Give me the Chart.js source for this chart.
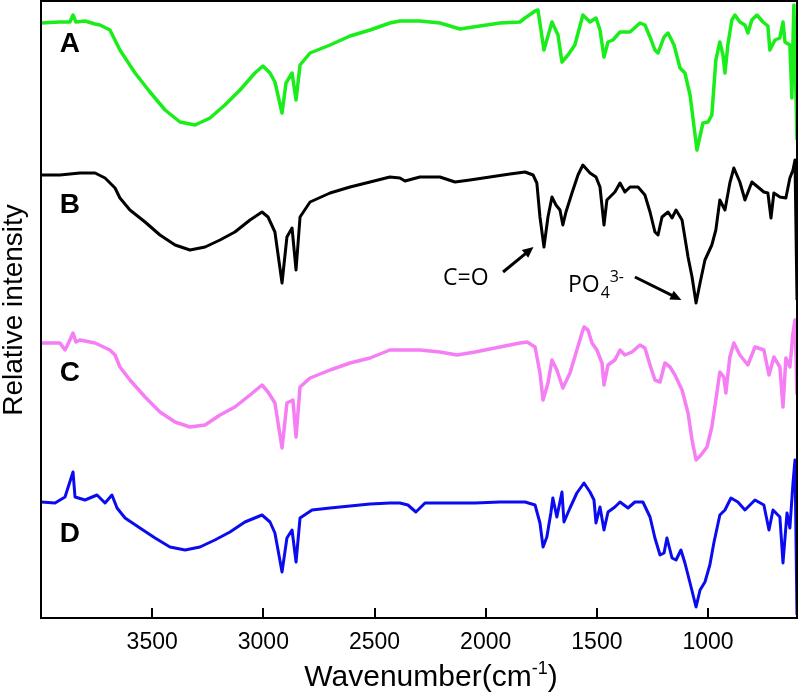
<!DOCTYPE html>
<html>
<head>
<meta charset="utf-8">
<script src="https://cdn.jsdelivr.net/npm/chart.js@4/dist/chart.umd.min.js"></script>
<style>
  html, body { margin: 0; padding: 0; background: #fff; }
  canvas { display: block; }
</style>
</head>
<body>
<canvas id="ftir" width="800" height="693"></canvas>
<script>
// wavenumbers (cm-1) and relative intensity (arbitrary units)
var wnA = [4000,3915,3870,3856,3843,3802,3757,3735,3690,3645,3577,3510,3442,3375,3307,3240,3173,3105,3038,3002,2970,2948,2916,2898,2871,2853,2835,2790,2700,2610,2520,2431,2386,2296,2206,2116,2026,1936,1846,1823,1778,1765,1738,1702,1675,1657,1630,1599,1563,1531,1504,1486,1468,1450,1428,1396,1351,1306,1284,1261,1239,1225,1198,1180,1153,1126,1104,1081,1050,1023,1000,983,965,947,933,924,911,893,879,857,834,821,803,780,753,731,722,699,677,663,654,632,623,618,614,600];
var intA = [59.5,59.6,59.6,60.3,59.6,59.7,59.4,59.3,58.8,56.8,54.5,52.6,50.8,49.6,49.3,50.0,51.3,52.8,54.5,55.2,54.5,53.6,50.5,53.5,54.5,51.8,55.3,56.5,57.3,58.2,58.8,59.5,59.7,59.7,59.5,58.9,59.2,59.5,59.6,60.0,60.7,60.8,56.8,59.6,58.3,55.6,56.3,57.3,60.3,59.6,60.0,58.8,56.1,57.6,57.8,58.6,58.6,59.5,59.3,58.1,56.8,56.5,58.1,58.5,57.3,55.0,54.5,52.3,46.8,49.5,49.6,50.3,55.8,57.6,56.3,54.5,57.3,59.8,60.3,59.6,59.3,58.5,59.8,60.3,59.6,59.2,56.8,57.8,58.0,59.6,57.6,57.3,52.0,57.8,61.3,47.8];

var wnB = [4000,3915,3825,3757,3712,3667,3645,3600,3532,3465,3397,3330,3262,3195,3128,3060,3006,2979,2948,2916,2894,2871,2853,2835,2790,2700,2610,2520,2431,2386,2363,2296,2206,2138,2071,1981,1891,1823,1787,1770,1756,1738,1720,1702,1684,1666,1653,1639,1612,1585,1563,1531,1504,1486,1468,1455,1419,1396,1374,1351,1315,1284,1261,1239,1225,1207,1180,1162,1144,1117,1090,1072,1054,1036,1014,983,965,947,924,902,884,857,834,803,776,749,731,717,704,677,650,632,618,609,600];
var intB = [44.3,44.3,44.5,44.5,44.0,43.0,42.0,40.8,39.6,38.3,37.3,36.8,37.1,37.8,38.6,39.8,40.6,40.1,38.6,33.5,38.1,39.0,34.8,40.1,41.6,42.5,43.1,43.6,44.1,44.0,43.7,44.1,44.1,43.6,43.8,44.1,44.4,44.6,44.3,43.5,40.1,37.1,40.1,42.1,41.3,40.8,39.3,40.6,42.5,44.3,45.3,44.5,44.1,43.1,39.3,41.8,42.6,43.5,42.6,43.1,43.1,42.3,40.6,38.6,38.3,40.1,40.6,40.0,40.8,39.8,36.1,34.1,31.5,33.5,35.8,37.3,38.8,41.8,40.8,43.5,45.0,43.6,41.8,43.6,43.1,42.6,42.5,40.0,42.5,42.1,42.0,44.0,44.8,45.8,31.8];

var wnC = [4000,3915,3892,3870,3856,3843,3825,3757,3690,3667,3645,3600,3532,3465,3397,3330,3262,3195,3128,3060,3006,2979,2948,2916,2894,2867,2853,2835,2790,2700,2610,2520,2431,2386,2296,2206,2129,2048,1936,1846,1814,1778,1756,1742,1720,1702,1680,1653,1621,1590,1567,1558,1540,1522,1500,1477,1468,1450,1419,1396,1374,1342,1306,1284,1261,1239,1216,1194,1171,1149,1117,1090,1072,1054,1032,1005,983,965,947,929,920,902,884,857,821,789,749,726,704,677,663,650,632,618,609,600];
var intC = [27.5,27.5,26.8,27.8,28.5,27.6,27.8,27.5,26.8,26.3,25.1,23.8,22.1,20.6,19.6,19.1,19.3,20.3,21.1,22.3,23.3,22.6,21.5,17.0,21.5,21.8,18.1,23.1,24.0,24.8,25.5,26.0,26.8,26.8,26.8,26.6,26.3,26.6,27.1,27.5,27.6,27.1,24.5,21.8,23.5,25.8,24.8,23.0,24.5,26.8,28.5,29.1,28.8,27.5,26.8,25.5,23.3,25.3,25.8,26.8,26.3,26.6,27.3,27.0,25.3,23.8,23.6,25.5,25.1,24.3,22.8,20.5,17.8,15.8,16.3,17.1,19.1,21.8,24.6,24.1,22.5,26.1,27.5,26.3,25.3,27.1,26.8,24.3,26.1,25.1,21.1,26.0,25.1,28.5,29.8,22.3];

var wnD = [4000,3937,3892,3856,3847,3802,3748,3712,3681,3658,3622,3555,3487,3420,3352,3285,3218,3150,3083,3006,2970,2948,2916,2894,2871,2853,2835,2781,2700,2610,2520,2431,2386,2350,2314,2273,2161,2048,1936,1823,1778,1756,1742,1725,1707,1698,1680,1657,1648,1621,1590,1558,1531,1513,1504,1486,1468,1450,1419,1396,1360,1329,1293,1261,1239,1216,1198,1185,1162,1144,1122,1104,1081,1054,1036,1014,992,974,947,924,897,866,834,789,749,726,708,677,663,645,632,618,609,600];
var intD = [11.6,11.5,12.1,14.6,12.1,11.8,12.3,11.5,12.3,11.0,10.0,9.0,8.0,7.1,6.8,7.1,7.8,8.6,9.6,10.3,9.6,8.5,4.6,8.0,8.8,5.6,10.0,10.8,11.0,11.2,11.4,11.5,11.5,11.3,10.6,11.5,11.5,11.5,11.6,11.6,11.3,9.5,7.1,8.1,10.5,12.0,10.1,12.6,9.6,11.0,12.5,13.5,12.6,11.8,9.5,11.1,8.8,10.6,11.1,11.6,11.0,11.6,11.6,10.1,8.0,6.3,6.5,8.0,6.0,5.8,6.8,5.5,3.5,1.1,2.8,3.6,5.3,7.5,10.3,10.8,12.0,11.6,10.8,11.8,11.3,8.8,10.8,10.1,5.5,10.5,9.0,13.5,15.8,0.3];

var sampleNames = ["A", "B", "C", "D"];
var xTicks = [1000, 1500, 2000, 2500, 3000, 3500];

function pts(wn, val) {
  return wn.map(function (w, i) { return { x: w, y: val[i] }; });
}

function arrow(ctx, x1, y1, x2, y2) {
  var ang = Math.atan2(y2 - y1, x2 - x1);
  var hl = 11;
  ctx.save();
  ctx.strokeStyle = "#000";
  ctx.fillStyle = "#000";
  ctx.lineWidth = 3;
  ctx.beginPath();
  ctx.moveTo(x1, y1);
  ctx.lineTo(x2 - Math.cos(ang) * hl * 0.8, y2 - Math.sin(ang) * hl * 0.8);
  ctx.stroke();
  ctx.beginPath();
  ctx.moveTo(x2, y2);
  ctx.lineTo(x2 - hl * Math.cos(ang) + 5 * Math.sin(ang), y2 - hl * Math.sin(ang) - 5 * Math.cos(ang));
  ctx.lineTo(x2 - hl * Math.cos(ang) - 5 * Math.sin(ang), y2 - hl * Math.sin(ang) + 5 * Math.cos(ang));
  ctx.closePath();
  ctx.fill();
  ctx.restore();
}

// frame, tick labels, sample letters, annotations and axis titles
var extras = {
  id: "extras",
  afterDraw: function (chart) {
    var ctx = chart.ctx;
    var xs = chart.scales.x, ys = chart.scales.y, a = chart.chartArea;
    ctx.save();
    ctx.strokeStyle = "#000";
    ctx.lineWidth = 2;
    ctx.strokeRect(a.left, a.top, a.right - a.left, a.bottom - a.top);

    ctx.fillStyle = "#000";
    ctx.font = "23px 'Liberation Sans', Arial, sans-serif";
    ctx.textAlign = "center";
    ctx.textBaseline = "middle";
    xs.ticks.forEach(function (t) {
      ctx.fillText(String(t.value), xs.getPixelForValue(t.value), a.bottom + 25);
    });

    ctx.font = "bold 28px 'Liberation Sans', Arial, sans-serif";
    var letterY = [57.4, 41.3, 24.5, 8.4];
    sampleNames.forEach(function (s, i) {
      ctx.fillText(s, xs.getPixelForValue(3870), ys.getPixelForValue(letterY[i]));
    });

    ctx.font = "23px 'Open Sans', sans-serif";
    ctx.textAlign = "left";
    ctx.textBaseline = "alphabetic";
    ctx.fillText("C=O", xs.getPixelForValue(2192), ys.getPixelForValue(33.3));
    var px = xs.getPixelForValue(1630), py = ys.getPixelForValue(32.6);
    ctx.fillText("PO", px, py);
    var w = ctx.measureText("PO").width;
    ctx.font = "16px 'Open Sans', sans-serif";
    ctx.fillText("4", px + w + 1, py + 6);
    ctx.fillText("3-", px + w + 10, py - 10);

    arrow(ctx, xs.getPixelForValue(1922), ys.getPixelForValue(34.6), xs.getPixelForValue(1785), ys.getPixelForValue(37.1));
    arrow(ctx, xs.getPixelForValue(1329), ys.getPixelForValue(34.1), xs.getPixelForValue(1120), ys.getPixelForValue(31.8));

    var t1 = "Wavenumber(cm", t2 = ")";
    ctx.font = "30px 'Liberation Sans', Arial, sans-serif";
    var w1 = ctx.measureText(t1).width, w3 = ctx.measureText(t2).width;
    ctx.font = "18px 'Liberation Sans', Arial, sans-serif";
    var w2 = ctx.measureText("-1").width;
    var x0 = 431 - (w1 + w2 + w3) / 2, by = 686;
    ctx.font = "30px 'Liberation Sans', Arial, sans-serif";
    ctx.fillText(t1, x0, by);
    ctx.fillText(t2, x0 + w1 + w2, by);
    ctx.font = "18px 'Liberation Sans', Arial, sans-serif";
    ctx.fillText("-1", x0 + w1, by - 12);

    ctx.translate(22, 310);
    ctx.rotate(-Math.PI / 2);
    ctx.font = "28px 'Liberation Sans', Arial, sans-serif";
    ctx.textAlign = "center";
    ctx.fillText("Relative intensity", 0, 0);
    ctx.restore();
  }
};

var ctx = document.getElementById("ftir");
var config = {
  type: "line",
  data: {
    datasets: [
      { label: "A", data: pts(wnA, intA), borderColor: "#1aee1a", borderWidth: 3.5 },
      { label: "B", data: pts(wnB, intB), borderColor: "#000000", borderWidth: 3 },
      { label: "C", data: pts(wnC, intC), borderColor: "#f57ef5", borderWidth: 3.5 },
      { label: "D", data: pts(wnD, intD), borderColor: "#0b0bf0", borderWidth: 3 }
    ]
  },
  options: {
    responsive: false,
    animation: false,
    layout: { padding: { left: 41, right: 3, top: 1, bottom: 0 } },
    elements: { point: { radius: 0 }, line: { tension: 0, borderJoinStyle: "round" } },
    plugins: { legend: { display: false }, tooltip: { enabled: false } },
    scales: {
      x: {
        type: "linear",
        reverse: true,
        min: 600,
        max: 4000,
        border: { display: false },
        grid: { drawOnChartArea: false, drawTicks: true, tickLength: -10, color: "#000", lineWidth: 2 },
        ticks: { display: false },
        afterBuildTicks: function (scale) {
          scale.ticks = xTicks.map(function (v) { return { value: v }; });
        },
        afterFit: function (scale) { scale.height = 75; }
      },
      y: { type: "linear", min: 0, max: 61.7, display: false }
    }
  },
  plugins: [extras]
};
new Chart(ctx, config);
</script>
</body>
</html>
